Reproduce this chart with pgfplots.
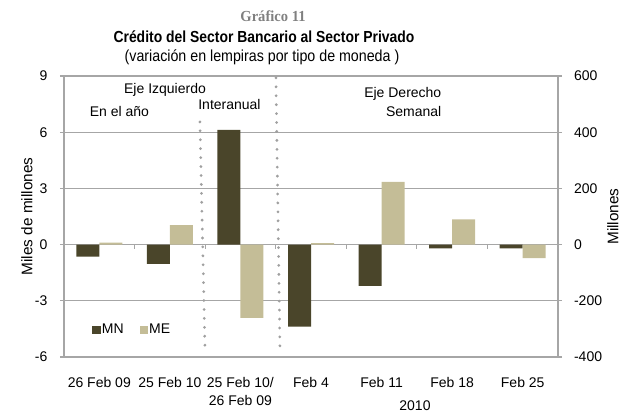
\documentclass[border=0pt]{standalone}
\usepackage{pgfplots}
\pgfplotsset{compat=1.18}
\usepackage{fontspec}
\setmainfont{Liberation Sans}
\newfontfamily\serifb{Liberation Serif}[FakeStretch=0.95]
\newfontfamily\titlefont{Liberation Sans}[FakeStretch=0.87]
\newfontfamily\subfont{Liberation Sans}[FakeStretch=0.89]
\definecolor{mn}{HTML}{4A452A}
\definecolor{me}{HTML}{C4BD97}
\definecolor{gridgray}{HTML}{A6A6A6}
\definecolor{dotgray}{HTML}{A0A0A0}
\begin{document}
\begin{tikzpicture}
\pgfplotsset{
  common/.style={
    width=370.5pt, height=210.75pt, scale only axis,
    xmin=-0.5, xmax=6.5,
    ybar=0pt, bar width=17.25pt,
    /pgf/number format/assume math mode=true,
    tick label style={font=\fontsize{10.5}{12}\selectfont},
    label style={font=\fontsize{11.5}{13}\selectfont},
    tick align=outside, major tick length=3pt,
    ytick style={gridgray, line width=0.8pt},
    axis line style={gridgray, line width=0.8pt},
  }
}
\begin{axis}[common,
  ymin=-6, ymax=9, ytick={-6,-3,0,3,6,9},
  ymajorgrids, grid style={gridgray, line width=0.8pt},
  ytick pos=left,
  yticklabel style={xshift=-6pt},
  xtick={0,...,6},
  xticklabels={26 Feb 09, 25 Feb 10, {25 Feb 10/\\26 Feb 09}, Feb 4, Feb 11, Feb 18, Feb 25},
  xtick style={draw=none},
  xticklabel style={align=center, font=\fontsize{10.5}{13.5}\selectfont, inner sep=0pt, yshift=-12pt},
  ylabel={Miles de millones},
  ylabel style={at={(axis description cs:-0.075,0.5)}, anchor=center},
  xlabel={2010},
  xlabel style={at={(axis description cs:0.7105,0)}, anchor=north, inner sep=0pt, yshift=-32.25pt, font=\fontsize{10.5}{12}\selectfont},
  legend columns=2,
  legend style={at={(axis description cs:0.0486,0.096)}, anchor=west, draw=none, fill=none,
    font=\fontsize{10.5}{12}\selectfont, nodes={inner sep=1pt},
    /tikz/every even column/.append style={column sep=11pt}},
  legend image code/.code={\fill[#1] (0pt,-3.2pt) rectangle (6.2pt,3.2pt);},
]
\addplot[fill=mn, draw=none] coordinates {(0,-0.64) (1,-1.03) (2,6.12)};
\addplot[fill=me, draw=none] coordinates {(0,0.1) (1,1.04) (2,-3.91)};
\legend{MN, ME}
\pgfplotsinvokeforeach{0.5,1.5,...,5.5}{\draw[gridgray, line width=0.8pt] (axis cs:#1,0) -- ++(0pt,-3pt);}
\draw[dotgray, line width=2.3pt, line cap=round, dash pattern=on 0pt off 6.7pt] (axis cs:1.426,6.55) -- (axis cs:1.497,-5.41);
\draw[dotgray, line width=2.3pt, line cap=round, dash pattern=on 0pt off 6.7pt] (axis cs:2.503,8.9) -- (axis cs:2.56,-5.46);
\end{axis}
\begin{axis}[common,
  ymin=-400, ymax=600, ytick={-400,-200,...,600},
  axis y line*=right, axis x line=none,
  yticklabel style={xshift=5.5pt},
  ylabel={Millones},
  ylabel style={at={(axis description cs:1.111,0.5)}, anchor=center, rotate=0},
]
\addplot[fill=mn, draw=none] coordinates {(3,-292) (4,-147) (5,-13) (6,-13)};
\addplot[fill=me, draw=none] coordinates {(3,5) (4,223) (5,90) (6,-48)};
\end{axis}
\node[anchor=base, font=\serifb\bfseries\fontsize{11.5}{13}\selectfont, text=gray] at (156.75pt,251.25pt) {Gráfico 11};
\node[anchor=base, font=\titlefont\bfseries\fontsize{12}{14}\selectfont] at (150pt,235.5pt) {Crédito del Sector Bancario al Sector Privado};
\node[anchor=base, font=\subfont\fontsize{12}{14}\selectfont] at (148.5pt,221.25pt) {(variación en lempiras por tipo de moneda )};
\node[anchor=base, font=\fontsize{10.5}{12}\selectfont] at (75.75pt,197.25pt) {Eje Izquierdo};
\node[anchor=base, font=\fontsize{10.5}{12}\selectfont] at (41.6pt,180pt) {En el año};
\node[anchor=base, font=\fontsize{10.5}{12}\selectfont] at (124.1pt,185.25pt) {Interanual};
\node[anchor=base east, font=\fontsize{10.5}{12}\selectfont] at (286.5pt,194.25pt) {Eje Derecho};
\node[anchor=base east, font=\fontsize{10.5}{12}\selectfont] at (286.5pt,180pt) {Semanal};
\pgfresetboundingbox
\path[use as bounding box] (-48pt,-42.75pt) rectangle (424.5pt,267.75pt);
\end{tikzpicture}
\end{document}
